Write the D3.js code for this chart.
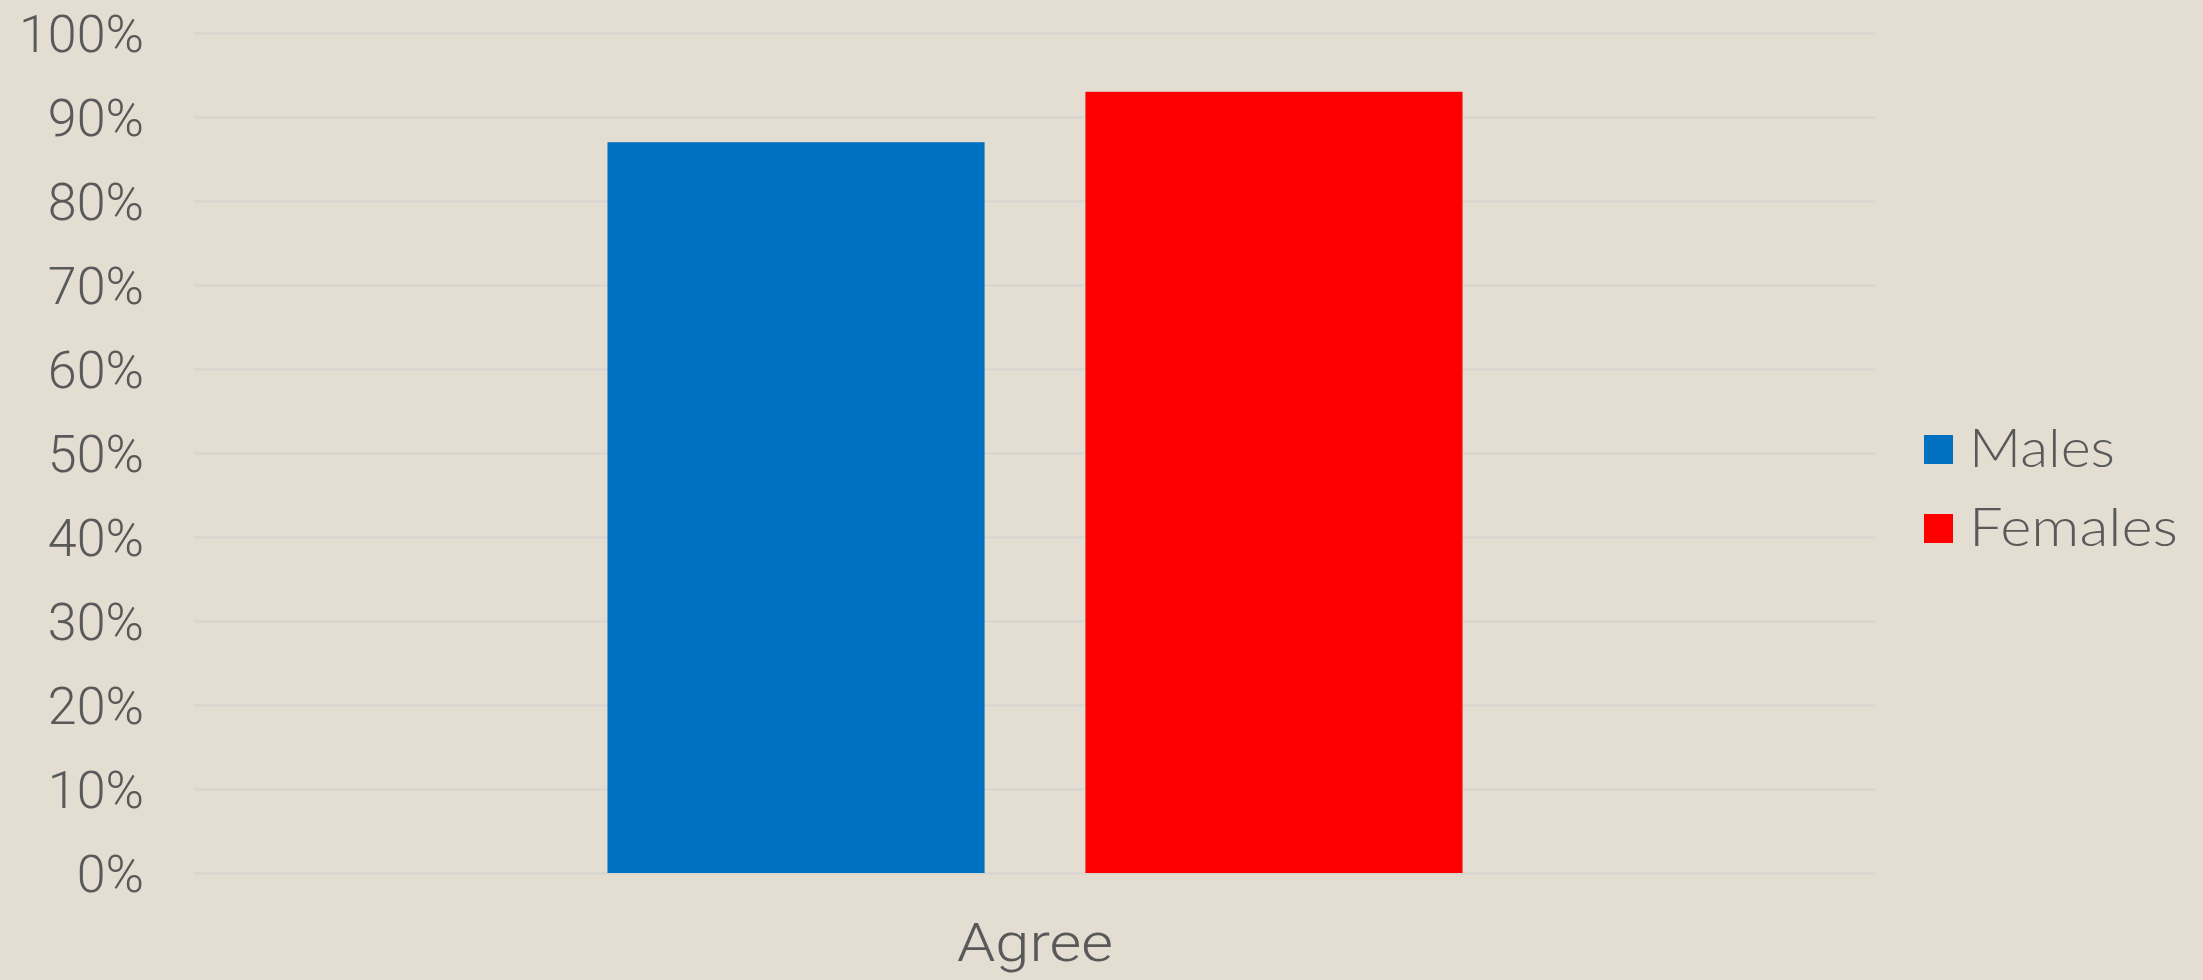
<!DOCTYPE html>
<html><head><meta charset="utf-8">
<script src="https://cdn.jsdelivr.net/npm/d3@7"></script>
<style>
html,body{margin:0;padding:0;background:#E3DDD2;}
svg{display:block;}
</style></head>
<body><svg id="c" width="2203" height="980"></svg>
<script>
const categories = ["Agree"];
const seriesNames = ["Males", "Females"];
const males = [0.87];
const females = [0.93];
const yTicks = [0, 0.1, 0.2, 0.3, 0.4, 0.5, 0.6, 0.7, 0.8, 0.9, 1.0];
const colors = ["#0070C0", "#FF0000"];

const svg = d3.select("#c");
const W = 2203, H = 980;
const m = {left:194, right:W-1876, top:33, bottom:H-873};
const iw = W - m.left - m.right, ih = H - m.top - m.bottom;

svg.append("rect").attr("width", W).attr("height", H).attr("fill", "#E3DDD2");

const x0 = d3.scaleBand().domain(categories).range([0, iw]).paddingInner(0).paddingOuter(0.4836);
const x1 = d3.scaleBand().domain(seriesNames).range([0, x0.bandwidth()]).paddingInner(0.211).paddingOuter(0);
const y = d3.scaleLinear().domain([0, 1]).range([ih, 0]);

const g = svg.append("g").attr("transform", `translate(${m.left},${m.top})`);

// gridlines
g.append("g").call(d3.axisLeft(y).tickValues(yTicks).tickSize(-iw).tickFormat(""))
  .call(s => s.select(".domain").remove())
  .call(s => s.selectAll("line").attr("stroke", "#D8D5CF").attr("stroke-width", 2));

// bars
const data = categories.map((c, i) => ({cat: c, vals: [{k: "Males", v: males[i]}, {k: "Females", v: females[i]}]}));
const cg = g.selectAll(".cat").data(data).enter().append("g")
  .attr("transform", d => `translate(${x0(d.cat)},0)`);
cg.selectAll("rect").data(d => d.vals).enter().append("rect")
  .attr("x", d => x1(d.k)).attr("width", x1.bandwidth())
  .attr("y", d => y(d.v)).attr("height", d => ih - y(d.v))
  .attr("fill", (d, i) => colors[i]);

// y axis labels
const ya = g.append("g").call(d3.axisLeft(y).tickValues(yTicks).tickSize(0).tickPadding(50).tickFormat(d3.format(".0%")));
ya.select(".domain").remove();
ya.selectAll("text").attr("font-family", "Roboto").attr("font-weight", 300)
  .attr("font-size", 52).attr("fill", "#595959").attr("dy", "0.35em");

// x axis labels
const xa = g.append("g").attr("transform", `translate(0,${ih})`).call(d3.axisBottom(x0).tickSize(0).tickPadding(69));
xa.select(".domain").remove();
xa.selectAll("text").attr("font-family", "Roboto").attr("font-weight", 300)
  .attr("font-size", 53).attr("fill", "#595959").attr("dy", "0.35em")
  .attr("textLength", 156).attr("lengthAdjust", "spacingAndGlyphs");

// legend
const legendWidths = [146, 209];
const lg = svg.append("g").attr("transform", "translate(1924,435)");
seriesNames.forEach((n, i) => {
  const it = lg.append("g").attr("transform", `translate(0,${i * 79})`);
  it.append("rect").attr("width", 29).attr("height", 29).attr("fill", colors[i]);
  it.append("text").attr("x", 45).attr("y", 32).text(n)
    .attr("font-family", "Lato, 'DejaVu Sans'").attr("font-weight", 300).attr("font-size", 53)
    .attr("textLength", legendWidths[i]).attr("lengthAdjust", "spacingAndGlyphs")
    .attr("fill", "#595959");
});
</script></body></html>
